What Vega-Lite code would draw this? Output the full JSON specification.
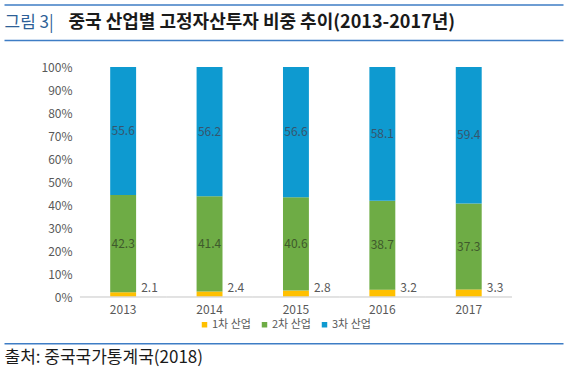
{
  "$schema": "https://vega.github.io/schema/vega-lite/v6.json",
  "width": 559,
  "height": 230,
  "autosize": {"type": "none"},
  "padding": {"left": 4, "top": 67, "right": 8, "bottom": 79},
  "background": "white",
  "config": {"view": {"stroke": null}, "font": "Noto Sans CJK KR"},
  "data": {
    "values": [
      {"year": "2013", "type": "1차 산업", "value": 2.1},
      {"year": "2013", "type": "2차 산업", "value": 42.3},
      {"year": "2013", "type": "3차 산업", "value": 55.6},
      {"year": "2014", "type": "1차 산업", "value": 2.4},
      {"year": "2014", "type": "2차 산업", "value": 41.4},
      {"year": "2014", "type": "3차 산업", "value": 56.2},
      {"year": "2015", "type": "1차 산업", "value": 2.8},
      {"year": "2015", "type": "2차 산업", "value": 40.6},
      {"year": "2015", "type": "3차 산업", "value": 56.6},
      {"year": "2016", "type": "1차 산업", "value": 3.2},
      {"year": "2016", "type": "2차 산업", "value": 38.7},
      {"year": "2016", "type": "3차 산업", "value": 58.1},
      {"year": "2017", "type": "1차 산업", "value": 3.3},
      {"year": "2017", "type": "2차 산업", "value": 37.3},
      {"year": "2017", "type": "3차 산업", "value": 59.4}
    ]
  },
  "resolve": {"axis": {"x": "independent"}},
  "layer": [
    {
      "mark": {"type": "bar", "width": {"band": 0.3}},
      "encoding": {
        "x": {
          "field": "year", "type": "nominal",
          "scale": {"paddingInner": 0, "paddingOuter": 0.735, "align": 0.598},
          "axis": {"orient": "bottom", "domain": false, "ticks": false, "labelPadding": 7, "labelAngle": 0, "labelFontSize": 12, "labelColor": "#595959", "title": null, "grid": false}
        },
        "y": {
          "field": "value", "type": "quantitative", "stack": "zero",
          "scale": {"domain": [0, 100], "nice": false},
          "axis": {"orient": "left", "offset": -76, "domain": false, "ticks": false, "grid": false, "values": [0, 10, 20, 30, 40, 50, 60, 70, 80, 90, 100], "tickCount": 11, "labelOverlap": false, "labelExpr": "datum.value + '%'", "labelPadding": 8, "labelFontSize": 12, "labelColor": "#595959", "title": null}
        },
        "order": {"field": "type", "sort": "ascending"},
        "color": {
          "field": "type", "type": "nominal",
          "scale": {"domain": ["1차 산업", "2차 산업", "3차 산업"], "range": ["#FFC000", "#6EAC45", "#0E9AD0"]},
          "legend": {"orient": "none", "legendX": 195, "legendY": 252, "direction": "horizontal", "title": null, "symbolType": "square", "symbolSize": 30, "symbolStrokeWidth": 0, "labelFontSize": 11, "labelColor": "#595959", "labelOffset": 2, "columnPadding": 8, "padding": 0}
        }
      }
    },
    {
      "transform": [{"filter": "datum.type === '1차 산업'"}],
      "mark": {"type": "bar", "width": {"band": 1}, "fillOpacity": 0, "stroke": "#d9d9d9", "strokeWidth": 1},
      "encoding": {
        "x": {
          "field": "year", "type": "nominal",
          "axis": {"orient": "top", "offset": 27, "labels": false, "ticks": false, "domain": true, "domainColor": "#3e7dc5", "domainWidth": 1.5, "grid": false,
                   "title": "중국 산업별 고정자산투자 비중 추이(2013-2017년)", "titleX": 64, "titleY": -18, "titleAlign": "left", "titleAnchor": "start", "titleBaseline": "middle", "titleFontSize": 18, "titleFontWeight": "bold", "titleColor": "#1a1a1a", "titleFont": "Noto Sans CJK KR"}
        },
        "y": {"datum": 0, "type": "quantitative", "title": null}
      }
    },
    {
      "mark": {"type": "text", "fontSize": 12, "baseline": "middle"},
      "encoding": {
        "x": {
          "field": "year", "type": "nominal",
          "axis": {"orient": "top", "offset": 62.5, "labels": false, "ticks": false, "domain": true, "domainColor": "#3e7dc5", "domainWidth": 1.5, "grid": false,
                   "title": "그림 3|", "titleX": 0, "titleY": 17.5, "titleAlign": "left", "titleAnchor": "start", "titleBaseline": "middle", "titleFontSize": 17, "titleFontWeight": "normal", "titleColor": "#2e5f97", "titleFont": "Noto Sans CJK KR"}
        },
        "y": {"field": "value", "type": "quantitative", "stack": "zero", "bandPosition": 0.5, "title": null},
        "detail": {"field": "type"},
        "order": {"field": "type", "sort": "ascending"},
        "text": {
          "condition": {"test": "datum.type === '1차 산업'", "value": ""},
          "field": "value", "type": "quantitative", "format": ".1f"
        },
        "color": {
          "condition": {"test": "datum.type === '3차 산업'", "value": "#36566e"},
          "value": "#3f5a2c"
        }
      }
    },
    {
      "transform": [{"filter": "datum.type === '1차 산업'"}],
      "mark": {"type": "text", "fontSize": 12, "align": "left", "baseline": "alphabetic", "dx": 18, "dy": -5, "color": "#595959"},
      "encoding": {
        "x": {
          "field": "year", "type": "nominal",
          "axis": {"orient": "bottom", "offset": 46.3, "labels": false, "ticks": false, "domain": true, "domainColor": "#3e7dc5", "domainWidth": 1.5, "grid": false,
                   "title": "출처: 중국국가통계국(2018)", "titleX": 0, "titleY": 13.7, "titleAlign": "left", "titleAnchor": "start", "titleBaseline": "middle", "titleFontSize": 17, "titleFontWeight": "normal", "titleColor": "#1a1a1a", "titleFont": "Noto Sans CJK KR"}
        },
        "y": {"datum": 0, "type": "quantitative", "title": null},
        "text": {"field": "value", "type": "quantitative", "format": ".1f"}
      }
    }
  ]
}
